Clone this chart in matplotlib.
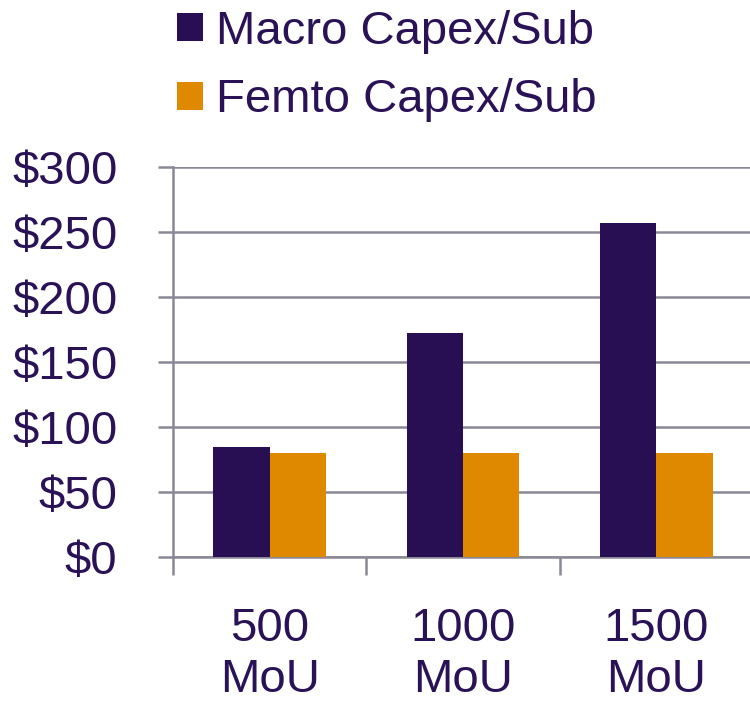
import numpy as np
import matplotlib.pyplot as plt
from matplotlib.ticker import FixedLocator, FuncFormatter

plt.rcParams['font.family'] = ['Liberation Sans', 'DejaVu Sans']

categories = ['500\nMoU', '1000\nMoU', '1500\nMoU']
macro = [85, 172, 257]
femto = [80, 80, 80]
series_names = ['Macro Capex/Sub', 'Femto Capex/Sub']

purple = '#280e52'
orange = '#de8900'
text_col = '#2a1257'
grid_col = '#8a8896'

fig = plt.figure(figsize=(7.5, 7.01), dpi=100)
ax = fig.add_axes([0.2307, 0.2054, 0.7733, 0.5564])

x = np.arange(len(categories))
w = 0.292
b1 = ax.bar(x - w / 2, macro, w, color=purple, label=series_names[0], zorder=3)
b2 = ax.bar(x + w / 2, femto, w, color=orange, label=series_names[1], zorder=3)

ax.set_xlim(-0.5, 2.5)
ax.set_ylim(0, 300)
ax.set_yticks(np.arange(0, 301, 50))
ax.yaxis.set_major_formatter(FuncFormatter(lambda v, p: '$%d' % v))
ax.yaxis.grid(True, color=grid_col, linewidth=1.8, zorder=0)

ax.xaxis.set_major_locator(FixedLocator([-0.5, 0.5, 1.5, 2.5]))
ax.xaxis.set_major_formatter(FuncFormatter(lambda v, p: ''))
ax.xaxis.set_minor_locator(FixedLocator(x))
ax.set_xticklabels(categories, minor=True)

ax.tick_params(axis='y', length=11, width=1.8, color=grid_col, pad=29,
               labelsize=34, labelcolor=text_col)
ax.tick_params(axis='x', which='major', length=13, width=1.8, color=grid_col)
ax.tick_params(axis='x', which='minor', length=0, pad=36, labelsize=34,
               labelcolor=text_col)
for lbl in ax.get_xticklabels(minor=True):
    lbl.set_linespacing(1.2)

for s in ['top', 'right']:
    ax.spines[s].set_visible(False)
for s in ['left', 'bottom']:
    ax.spines[s].set_color(grid_col)
    ax.spines[s].set_linewidth(1.8)

leg = fig.legend(handles=[b1, b2], loc='upper left', bbox_to_anchor=(0.236, 0.986),
                 frameon=False, fontsize=34, handlelength=0.54, handleheight=0.54,
                 handletextpad=0.28, labelspacing=0.52, borderpad=0.0,
                 borderaxespad=0.0)
for t in leg.get_texts():
    t.set_color(text_col)

fig.savefig('out.png', dpi=100)
